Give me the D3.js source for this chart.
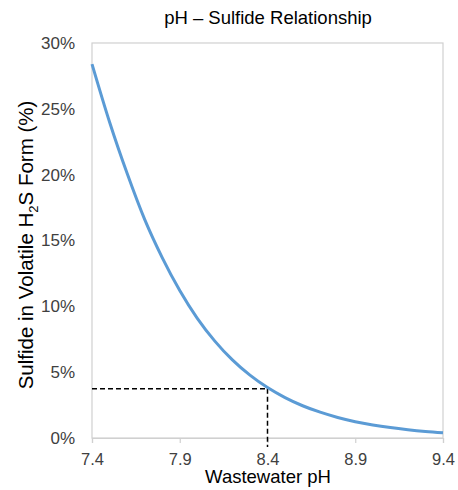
<!DOCTYPE html>
<html><head><meta charset="utf-8">
<script src="https://cdn.jsdelivr.net/npm/d3@7"></script>
<style>body{margin:0;background:#fff;} svg{display:block;font-family:"Liberation Sans",Arial,sans-serif;}</style>
</head><body>
<svg id="c" width="458" height="490"></svg>
<script>
const phValues = [7.4,7.5,7.6,7.7,7.8,7.9,8.0,8.1,8.2,8.3,8.4,8.5,8.6,8.7,8.8,8.9,9.0,9.1,9.2,9.3,9.4];
const sulfidePct = [28.4,24.0,20.1,16.6,13.7,11.2,9.09,7.36,5.93,4.77,3.83,3.07,2.45,1.96,1.56,1.24,0.99,0.79,0.63,0.50,0.40];
const xTicks = [7.4,7.9,8.4,8.9,9.4];
const yTicks = [0,5,10,15,20,25,30];
const markerPH = 8.4;
const markerPct = 3.75;

const svg = d3.select("#c");
const m = {l:92, r:443, t:43, b:438};
const x = d3.scaleLinear().domain([7.4,9.4]).range([m.l,m.r]);
const y = d3.scaleLinear().domain([0,30]).range([m.b,m.t]);

// plot frame
svg.append("rect").attr("x",m.l).attr("y",m.t).attr("width",m.r-m.l).attr("height",m.b-m.t)
  .attr("fill","none").attr("stroke","#d0d0d0").attr("stroke-width",1.2);

// x axis ticks
const xa = svg.append("g").attr("transform",`translate(0,${m.b})`)
  .call(d3.axisBottom(x).tickValues(xTicks).tickFormat(d3.format(".1f")).tickSize(5).tickPadding(10));
xa.select(".domain").attr("stroke","#d0d0d0").attr("stroke-width",1.2);
xa.selectAll(".tick line").attr("stroke","#d0d0d0").attr("stroke-width",1.2);
xa.selectAll("text").attr("font-size",16.5).attr("fill","#404040").attr("font-family","Liberation Sans, Arial, sans-serif");

// y axis labels
const ya = svg.append("g").attr("transform",`translate(${m.l},0)`)
  .call(d3.axisLeft(y).tickValues(yTicks).tickFormat(d=>d+"%").tickSize(0).tickPadding(17));
ya.select(".domain").remove();
ya.selectAll("text").attr("font-size",17).attr("fill","#404040").attr("font-family","Liberation Sans, Arial, sans-serif");

// dashed marker lines
svg.append("line").attr("x1",x(7.4)).attr("x2",x(markerPH)).attr("y1",y(markerPct)).attr("y2",y(markerPct))
  .attr("stroke","#000").attr("stroke-width",1.5).attr("stroke-dasharray","5,3");
svg.append("line").attr("x1",x(markerPH)).attr("x2",x(markerPH)).attr("y1",y(markerPct)).attr("y2",m.b+9)
  .attr("stroke","#000").attr("stroke-width",1.5).attr("stroke-dasharray","5,3");

// curve
const data = phValues.map((p,i)=>({p,v:sulfidePct[i]}));
svg.append("path").datum(data)
  .attr("d", d3.line().x(d=>x(d.p)).y(d=>y(d.v)).curve(d3.curveMonotoneX))
  .attr("fill","none").attr("stroke","#5B9BD5").attr("stroke-width",3);

// title
svg.append("text").attr("x",268).attr("y",24).attr("text-anchor","middle")
  .attr("font-size",18.5).attr("fill","#000").text("pH – Sulfide Relationship");

// x title
svg.append("text").attr("x",268).attr("y",483).attr("text-anchor","middle")
  .attr("font-size",18.5).attr("fill","#000").text("Wastewater pH");

// y title
const yt = svg.append("text").attr("transform","translate(33,245) rotate(-90)").attr("text-anchor","middle")
  .attr("font-size",20.5).attr("fill","#000");
yt.append("tspan").text("Sulfide in Volatile H");
yt.append("tspan").attr("font-size",13).attr("dy",5).text("2");
yt.append("tspan").attr("dy",-5).text("S Form (%)");
</script>
</body></html>
